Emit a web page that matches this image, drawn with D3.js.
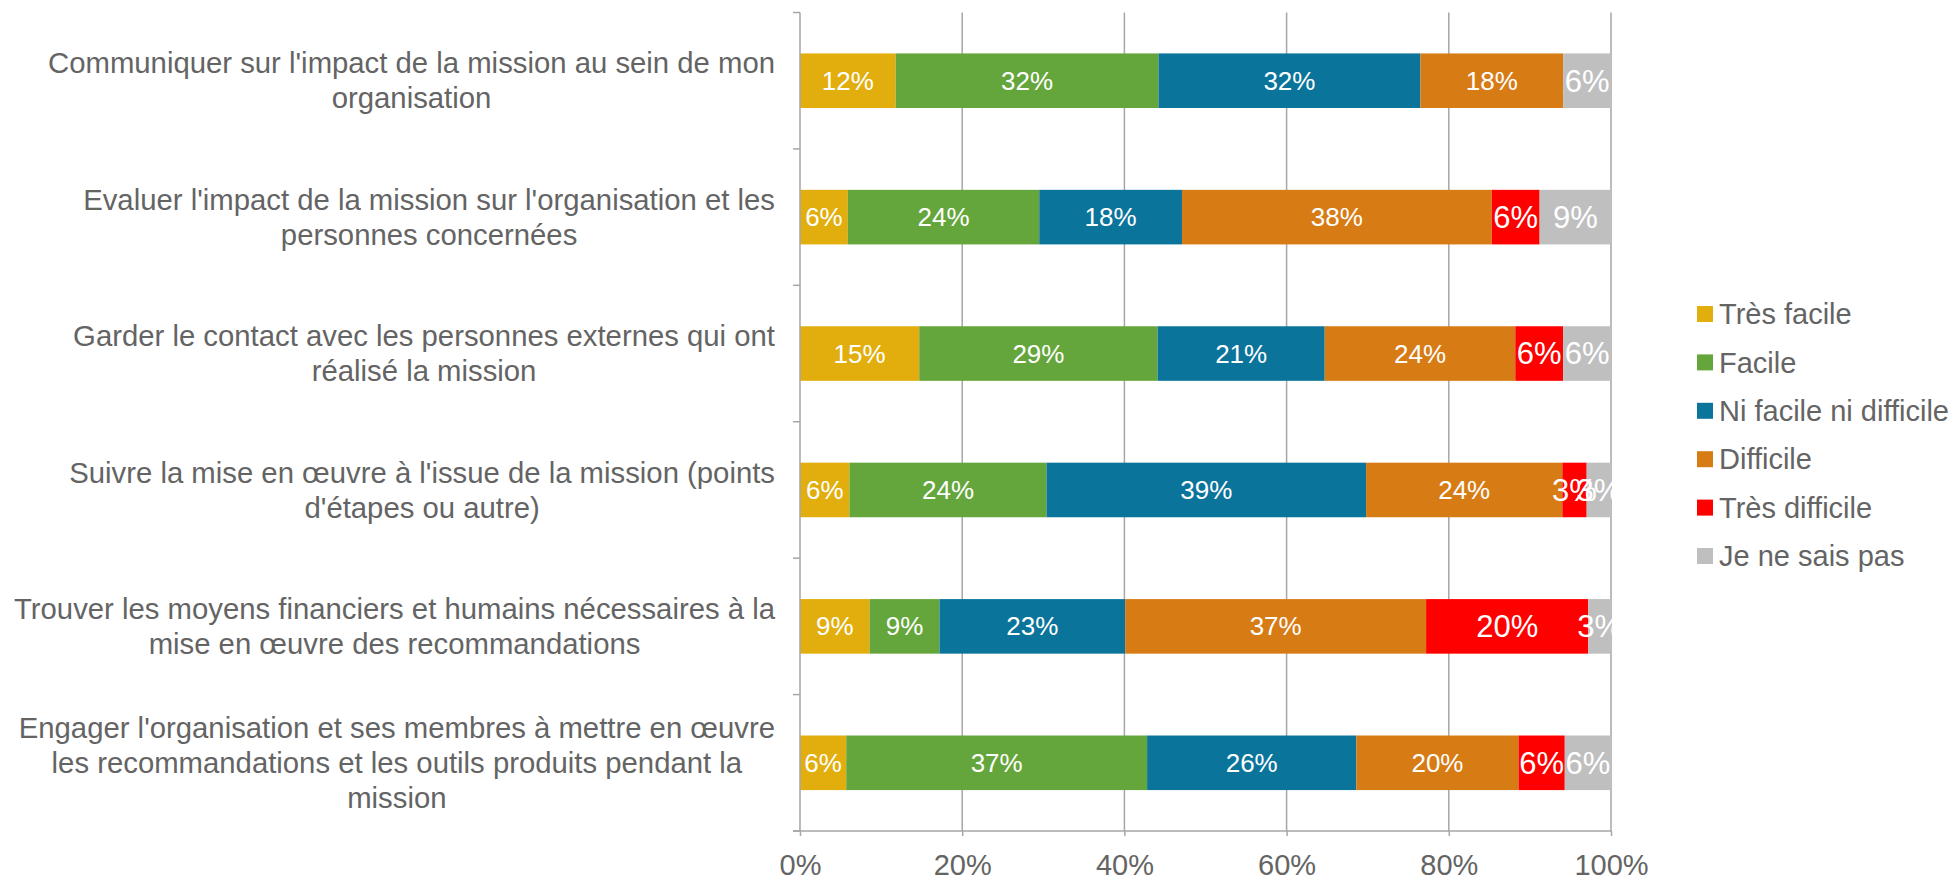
<!DOCTYPE html>
<html>
<head>
<meta charset="utf-8" />
<title>Suites de la mission</title>
<script src="https://d3js.org/d3.v7.min.js"></script>
<style>
  body, html { margin: 0; background: #ffffff; }
  svg text { font-family: 'Liberation Sans', Arial, sans-serif; fill: #646464; }
</style>
</head>
<body>
<svg id="viz"></svg>

<script>
// categories, one array of lines per bar (top to bottom)
var categories = [
  ["Communiquer sur l'impact de la mission au sein de mon", "organisation"],
  ["Evaluer l'impact de la mission sur l'organisation et les", "personnes concernées"],
  ["Garder le contact avec les personnes externes qui ont", "réalisé la mission"],
  ["Suivre la mise en œuvre à l'issue de la mission (points", "d'étapes ou autre)"],
  ["Trouver les moyens financiers et humains nécessaires à la", "mise en œuvre des recommandations"],
  ["Engager l'organisation et ses membres à mettre en œuvre", "les recommandations et les outils produits pendant la", "mission"]
];

var seriesNames = ["Très facile", "Facile", "Ni facile ni difficile", "Difficile", "Très difficile", "Je ne sais pas"];
var seriesColors = ["#E1AE0D", "#64A63B", "#0B749B", "#D77B15", "#FF0000", "#BFBFBF"];

// percentages, same order as categories
var tresFacile    = [11.8,  5.9, 14.7,  6.1,  8.6,  5.7];
var facile        = [32.4, 23.6, 29.4, 24.3,  8.6, 37.1];
var niFacile      = [32.3, 17.6, 20.6, 39.4, 22.9, 25.8];
var difficile     = [17.6, 38.2, 23.5, 24.2, 37.1, 20.0];
var tresDifficile = [ 0.0,  5.9,  5.9,  3.0, 20.0,  5.7];
var neSaisPas     = [ 5.9,  8.8,  5.9,  3.0,  2.8,  5.7];

var xTicks = [0, 20, 40, 60, 80, 100];

var W = 1954, H = 879;
var margin = {left: 800, right: 343, top: 12.5, bottom: 48};

var svg = d3.select("#viz")
  .attr("width", W)
  .attr("height", H);

var allSeries = [tresFacile, facile, niFacile, difficile, tresDifficile, neSaisPas];
var rows = categories.map(function(c, i) {
  var r = {key: i};
  seriesNames.forEach(function(s, j) { r[s] = allSeries[j][i]; });
  return r;
});

var stacked = d3.stack().keys(seriesNames)(rows);

var xScale = d3.scaleLinear()
  .domain([0, 100])
  .range([margin.left, W - margin.right]);

var yCat = d3.scaleBand()
  .domain(d3.range(categories.length))
  .range([margin.top, H - margin.bottom]);

var yBar = d3.scaleBand()
  .domain(d3.range(categories.length))
  .range([margin.top, H - margin.bottom])
  .paddingInner(0.6)
  .paddingOuter(0.3);

var yBottom = H - margin.bottom;

// vertical gridlines
svg.append("g")
  .selectAll("line")
  .data(xTicks.slice(1))
  .enter().append("line")
  .attr("x1", function(d) { return xScale(d); })
  .attr("x2", function(d) { return xScale(d); })
  .attr("y1", margin.top)
  .attr("y2", yBottom)
  .attr("stroke", "#A6A6A6")
  .attr("stroke-width", 1.5);

// bars
var layers = svg.append("g")
  .selectAll("g")
  .data(stacked)
  .enter().append("g")
  .attr("fill", function(d, i) { return seriesColors[i]; });

layers.selectAll("rect")
  .data(function(d) { return d; })
  .enter().append("rect")
  .attr("x", function(d) { return xScale(d[0]); })
  .attr("width", function(d) { return xScale(d[1]) - xScale(d[0]); })
  .attr("y", function(d, i) { return yBar(i); })
  .attr("height", yBar.bandwidth());

// value labels
var labelSize = [26, 26, 26, 26, 31, 31];
stacked.forEach(function(layer, si) {
  svg.append("g")
    .selectAll("text")
    .data(layer.filter(function(d) { return d[1] - d[0] > 0; }))
    .enter().append("text")
    .attr("x", function(d) { return xScale((d[0] + d[1]) / 2); })
    .attr("y", function(d) { return yBar(d.data.key) + yBar.bandwidth() / 2; })
    .attr("dy", "0.35em")
    .attr("text-anchor", "middle")
    .style("fill", "#ffffff")
    .style("font-size", labelSize[si] + "px")
    .text(function(d) { return Math.round(d[1] - d[0]) + "%"; });
});

// left axis line and ticks
svg.append("line")
  .attr("x1", xScale(0)).attr("x2", xScale(0))
  .attr("y1", margin.top).attr("y2", yBottom)
  .attr("stroke", "#A6A6A6").attr("stroke-width", 1.5);

svg.append("g")
  .selectAll("line")
  .data(d3.range(categories.length + 1))
  .enter().append("line")
  .attr("x1", xScale(0) - 7).attr("x2", xScale(0))
  .attr("y1", function(d) { return margin.top + d * yCat.step(); })
  .attr("y2", function(d) { return margin.top + d * yCat.step(); })
  .attr("stroke", "#A6A6A6").attr("stroke-width", 1.5);

// bottom axis
var xAxis = svg.append("g")
  .attr("transform", "translate(0," + yBottom + ")")
  .call(d3.axisBottom(xScale)
    .tickValues(xTicks)
    .tickSize(5)
    .tickPadding(18)
    .tickFormat(function(d) { return d + "%"; }));

xAxis.select(".domain")
  .attr("d", "M" + (xScale(0) - 7) + ",0H" + xScale(100))
  .attr("stroke", "#A6A6A6").attr("stroke-width", 1.5);
xAxis.selectAll(".tick line").attr("stroke", "#A6A6A6").attr("stroke-width", 1.5);
xAxis.selectAll(".tick text")
  .style("font-size", "29px")
  .style("fill", "#646464")
  .style("font-family", "'Liberation Sans', Arial, sans-serif");

// category labels: lines centered, block right-aligned
var labelRight = 775, lineH = 35;
categories.forEach(function(lines, i) {
  var t = svg.append("text")
    .attr("text-anchor", "middle")
    .style("font-size", "29.3px");
  var cy = yCat(i) + yCat.bandwidth() / 2;
  lines.forEach(function(l, k) {
    t.append("tspan")
      .attr("y", cy + (k - (lines.length - 1) / 2) * lineH)
      .attr("dy", "0.35em")
      .text(l);
  });
  var maxW = 0;
  t.selectAll("tspan").each(function() {
    maxW = Math.max(maxW, this.getComputedTextLength());
  });
  t.selectAll("tspan").attr("x", labelRight - maxW / 2);
});

// legend
var legend = svg.append("g")
  .selectAll("g")
  .data(seriesNames)
  .enter().append("g")
  .attr("transform", function(d, i) { return "translate(1697," + (314 + i * 48.4) + ")"; });

legend.append("rect")
  .attr("x", 0).attr("y", -8)
  .attr("width", 16).attr("height", 16)
  .attr("fill", function(d, i) { return seriesColors[i]; });

legend.append("text")
  .attr("x", 22)
  .attr("dy", "0.35em")
  .style("font-size", "29px")
  .text(function(d) { return d; });
</script>
</body>
</html>
